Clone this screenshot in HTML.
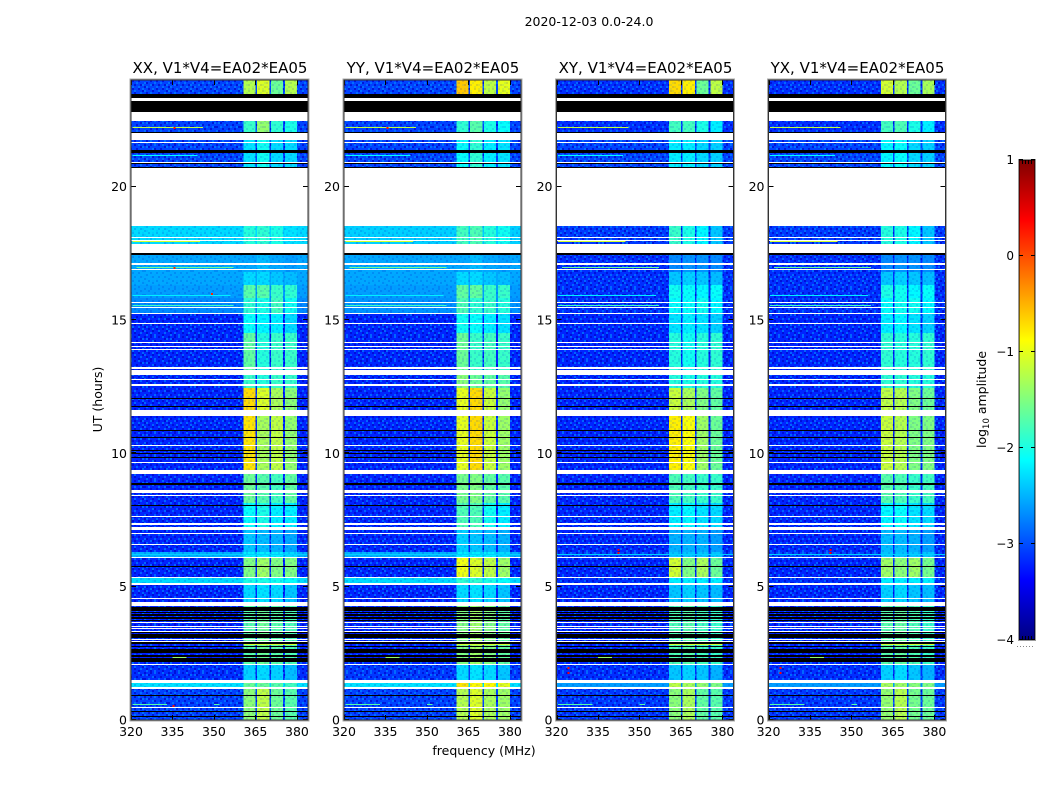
<!DOCTYPE html>
<html>
<head>
<meta charset="utf-8">
<title>2020-12-03 spectrogram</title>
<style>
html,body{margin:0;padding:0;background:#fff;}
svg{display:block;}
text{font-family:"DejaVu Sans","Liberation Sans",sans-serif;fill:#000;}
</style>
</head>
<body>
<svg id="fig" xmlns="http://www.w3.org/2000/svg" width="1050" height="800" viewBox="0 0 1050 800" shape-rendering="crispEdges">
<defs>
<pattern id="speckle" patternUnits="userSpaceOnUse" width="24" height="24">
<path fill="#0000c4" d="M0 0h2v2H0zM6 0h2v2H6zM14 0h2v2h-2zM20 2h2v2h-2zM4 2h2v2H4zM10 4h2v2h-2zM16 4h2v2h-2zM0 6h2v2H0zM22 6h2v2h-2zM6 8h2v2H6zM12 8h2v2h-2zM18 8h2v2h-2zM2 10h2v2H2zM14 12h2v2h-2zM8 12h2v2H8zM20 12h2v2h-2zM0 14h2v2H0zM4 16h2v2H4zM12 16h2v2h-2zM18 16h2v2h-2zM8 18h2v2H8zM22 18h2v2h-2zM2 20h2v2H2zM14 20h2v2h-2zM6 22h2v2H6zM18 22h2v2h-2z"/>
<path fill="#0088ff" d="M2 2h2v2H2zM10 0h2v2h-2zM18 0h2v2h-2zM8 4h2v2H8zM22 2h2v2h-2zM4 6h2v2H4zM14 6h2v2h-2zM20 6h2v2h-2zM0 10h2v2H0zM10 10h2v2h-2zM16 10h2v2h-2zM6 12h2v2H6zM22 12h2v2h-2zM12 14h2v2h-2zM2 14h2v2H2zM18 14h2v2h-2zM8 16h2v2H8zM22 16h2v2h-2zM0 18h2v2H0zM14 18h2v2h-2zM6 20h2v2H6zM20 20h2v2h-2zM10 22h2v2h-2zM2 22h2v2H2z"/>
</pattern>
<linearGradient id="cbar-grad" x1="0" y1="1" x2="0" y2="0"></linearGradient>
</defs>
<text x="589" y="26" text-anchor="middle" font-size="12.5">2020-12-03 0.0-24.0</text>
<text x="484" y="755" text-anchor="middle" font-size="12.5">frequency (MHz)</text>
<text transform="translate(102,399.5) rotate(-90)" text-anchor="middle" font-size="12.5">UT (hours)</text>
<text transform="translate(986,399.5) rotate(-90)" text-anchor="middle" font-size="12.5">log<tspan font-size="8.5" dy="3">10</tspan><tspan dy="-3"> amplitude</tspan></text>
<g id="panels"></g>
<g id="cbar"></g>
</svg>
<script>
// ---- chart data ----
const polarisations = ['XX', 'YY', 'XY', 'YX'];
const baselineLabel = 'V1*V4=EA02*EA05';
const xTicks = [320, 335, 350, 365, 380];
const yTicks = [0, 5, 10, 15, 20];
const colorbarTicks = [1, 0, -1, -2, -3, -4];

// time segments (UT hours, top and bottom edge)
const segTop = [24.00, 22.46, 21.75, 18.53, 17.50, 16.80, 16.30, 15.82, 15.26, 14.50, 13.12, 12.45, 11.40, 9.22, 8.14, 7.11, 6.30, 6.09, 5.32, 5.08, 4.27, 2.06, 1.37, 1.17];
const segBottom = [23.47, 22.05, 20.70, 17.85, 16.80, 16.30, 15.82, 15.26, 14.50, 13.12, 12.45, 11.62, 9.37, 8.14, 7.25, 6.30, 6.13, 5.36, 5.12, 4.27, 2.10, 1.50, 1.23, 0.00];

// receiver sub-band edges (MHz)
const bandStart = [360.7, 365.6, 370.6, 375.7];
const bandEnd = [365.1, 370.0, 375.0, 380.0];

// log10 amplitude of the out-of-band background per segment
const bgXX = [-3.05, -3.05, -3.05, -2.3, -2.55, -2.55, -2.6, -2.7, -3.2, -3.2, -3.2, -3.2, -3.2, -3.2, -3.2, -3.2, -2.5, -3.2, -2.3, -3.2, -3.2, -3.15, -2.25, -3.05];
const bgYY = [-3.05, -3.05, -3.05, -2.35, -2.55, -2.55, -2.6, -2.65, -3.2, -3.2, -3.2, -3.2, -3.2, -3.2, -3.2, -3.2, -2.5, -3.2, -2.3, -3.2, -3.2, -3.1, -2.25, -3.05];
const bgXY = [-3.15, -3.15, -3.05, -3.1, -3.15, -3.15, -3.15, -3.15, -3.2, -3.2, -3.2, -3.2, -3.2, -3.2, -3.2, -3.2, -3.05, -3.2, -3.15, -3.2, -3.2, -3.15, -2.6, -3.1];
const bgYX = [-3.15, -3.15, -3.05, -3.1, -3.15, -3.15, -3.15, -3.15, -3.2, -3.2, -3.2, -3.2, -3.2, -3.2, -3.2, -3.2, -3.05, -3.2, -3.15, -3.2, -3.2, -3.15, -2.6, -3.1];

// log10 amplitude of the four sub-bands per segment
const blocksXX = [[-1.25,-1.05,-1.6,-1.25],[-1.85,-1.4,-1.9,-2.0],[-2.25,-2.05,-2.3,-2.3],[-1.95,-1.9,-2.0,-2.25],[-2.55,-2.45,-2.55,-2.6],[-2.3,-2.3,-2.4,-2.45],[-1.7,-1.7,-1.85,-1.9],[-1.9,-2.0,-1.8,-2.05],[-2.1,-2.15,-2.2,-2.3],[-1.65,-1.95,-1.85,-1.85],[-1.85,-1.95,-1.85,-1.85],[-0.7,-1.05,-1.3,-1.45],[-0.75,-1.3,-1.2,-1.4],[-1.6,-1.7,-1.8,-1.65],[-2.1,-2.0,-2.2,-2.2],[-2.4,-2.45,-2.5,-2.55],[-2.2,-2.2,-2.2,-2.3],[-1.5,-1.35,-1.5,-1.5],[-2.0,-2.0,-2.05,-2.1],[-2.3,-2.25,-2.3,-2.4],[-1.7,-1.6,-1.7,-1.75],[-2.35,-2.3,-2.35,-2.45],[-1.6,-1.6,-1.7,-1.8],[-1.45,-1.2,-1.6,-1.7]];
const blocksYY = [[-0.6,-0.8,-1.2,-1.0],[-1.9,-1.7,-2.0,-2.1],[-2.1,-1.9,-2.2,-2.25],[-1.8,-1.75,-1.95,-2.05],[-2.55,-2.45,-2.55,-2.6],[-2.3,-2.3,-2.4,-2.45],[-1.65,-1.65,-1.85,-1.85],[-1.75,-1.9,-1.85,-1.95],[-2.05,-2.1,-2.2,-2.25],[-1.6,-1.85,-1.8,-1.85],[-1.45,-1.6,-1.65,-1.7],[-1.0,-0.7,-1.15,-1.4],[-1.0,-0.7,-1.15,-1.35],[-1.55,-1.5,-1.65,-1.7],[-1.75,-1.75,-2.05,-2.2],[-2.35,-2.4,-2.45,-2.5],[-2.2,-2.2,-2.2,-2.3],[-0.95,-1.05,-1.2,-1.35],[-1.9,-1.9,-2.0,-2.1],[-2.3,-2.25,-2.3,-2.4],[-1.5,-1.35,-1.5,-1.65],[-2.3,-2.25,-2.3,-2.4],[-0.75,-0.85,-0.85,-1.0],[-1.25,-1.05,-1.3,-1.35]];
const blocksXY = [[-0.7,-0.8,-1.6,-1.2],[-1.8,-1.8,-2.0,-2.2],[-2.2,-2.2,-2.3,-2.35],[-1.85,-2.0,-2.15,-2.4],[-2.7,-2.65,-2.65,-2.7],[-2.4,-2.35,-2.4,-2.45],[-2.05,-2.1,-2.15,-2.1],[-2.1,-2.1,-2.05,-2.15],[-2.25,-2.2,-2.25,-2.35],[-1.95,-2.05,-1.95,-1.9],[-1.95,-2.0,-1.95,-1.95],[-1.15,-1.3,-1.5,-1.65],[-0.8,-0.9,-1.35,-1.6],[-1.75,-1.8,-1.85,-1.85],[-2.2,-2.15,-2.25,-2.3],[-2.5,-2.5,-2.5,-2.6],[-2.4,-2.4,-2.4,-2.4],[-1.1,-1.5,-1.3,-1.6],[-2.2,-2.2,-2.2,-2.2],[-2.4,-2.35,-2.4,-2.45],[-1.75,-1.7,-1.8,-1.85],[-2.4,-2.35,-2.4,-2.5],[-1.2,-1.3,-1.4,-1.5],[-1.45,-1.3,-1.65,-1.7]];
const blocksYX = [[-1.1,-1.25,-1.6,-1.3],[-1.8,-1.75,-2.0,-2.2],[-2.15,-2.1,-2.3,-2.35],[-1.95,-2.0,-2.15,-2.4],[-2.7,-2.65,-2.65,-2.7],[-2.4,-2.35,-2.4,-2.45],[-2.0,-2.05,-2.15,-2.1],[-2.1,-2.05,-2.05,-2.15],[-2.2,-2.15,-2.25,-2.35],[-1.9,-1.95,-1.95,-1.9],[-1.9,-1.9,-1.95,-1.95],[-1.2,-1.25,-1.5,-1.6],[-1.15,-1.25,-1.5,-1.5],[-1.7,-1.75,-1.85,-1.8],[-2.15,-2.1,-2.25,-2.3],[-2.45,-2.45,-2.5,-2.6],[-2.4,-2.4,-2.4,-2.4],[-1.35,-1.45,-1.35,-1.55],[-2.2,-2.2,-2.2,-2.2],[-2.35,-2.3,-2.4,-2.45],[-1.7,-1.65,-1.75,-1.85],[-2.35,-2.3,-2.4,-2.5],[-1.3,-1.35,-1.45,-1.5],[-1.4,-1.25,-1.55,-1.6]];

// flagged rows with no data (UT hour ranges)
const whiteRows = [[23.32,23.21],[22.80,22.46],[22.01,21.75],[21.69,21.66],[20.92,20.88],[20.70,18.53],[18.12,18.07],[18.00,17.96],[17.85,17.50],[17.12,17.08],[16.91,16.87],[15.69,15.66],[15.49,15.45],[15.28,15.22],[14.89,14.85],[14.16,14.12],[14.04,14.00],[13.93,13.89],[13.24,13.16],[13.12,12.94],[12.80,12.75],[12.60,12.51],[11.62,11.40],[10.31,10.27],[9.67,9.64],[9.37,9.22],[8.64,8.60],[8.57,8.53],[8.45,8.42],[7.65,7.61],[7.37,7.33],[7.25,7.11],[7.01,6.97],[6.60,6.56],[6.13,6.09],[5.36,5.32],[5.12,5.08],[4.56,4.52],[4.42,4.27],[3.67,3.64],[3.54,3.51],[3.45,3.41],[3.34,3.30],[3.04,3.00],[2.96,2.92],[2.10,2.06],[1.50,1.37],[1.23,1.17],[0.49,0.45]];

// zero-amplitude rows (UT hour ranges)
const blackRows = [[23.47,23.32],[23.21,22.80],[22.05,22.01],[21.37,21.34],[21.32,21.28],[20.88,20.84],[20.75,20.70],[17.50,17.45],[12.09,12.06],[11.78,11.72],[10.86,10.82],[10.63,10.59],[10.11,10.07],[10.00,9.98],[9.88,9.84],[8.87,8.83],[8.08,8.04],[5.76,5.73],[4.23,4.10],[4.06,4.00],[3.96,3.91],[3.87,3.80],[3.75,3.71],[3.29,3.25],[3.22,3.06],[2.94,2.85],[2.77,2.73],[2.66,2.50],[2.44,2.35],[2.31,2.19],[0.94,0.92],[0.34,0.31],[0.15,0.12]];

// narrow-band interference: UT hour, start MHz, end MHz, level
const rfiHour = [22.24, 21.18, 17.96, 16.99, 15.56, 15.95, 6.24, 3.32, 2.36, 0.60, 0.60, 4.14, 2.84];
const rfiStart = [320.5, 320.5, 320.5, 322.0, 320.5, 320.5, 320.0, 360.7, 335.0, 320.5, 350.0, 360.7, 360.7];
const rfiEnd = [346.0, 344.0, 345.0, 357.0, 357.0, 356.0, 384.0, 380.0, 340.0, 333.0, 352.0, 380.0, 380.0];
const rfiLevel = [-1.2, -2.1, -1.1, -1.6, -1.8, -2.2, -2.35, -0.6, -1.4, -1.7, -1.7, -1.2, -1.1];

// isolated hot pixels: UT hour, MHz, level, polarisations showing it
const hotHour = [22.24, 17.0, 16.0, 6.3, 6.42, 1.8, 0.58, 2.0];
const hotFreq = [335.3, 335.3, 349.0, 342.0, 342.0, 324.0, 335.0, 324.0];
const hotLevel = [0.3, 0.2, 0.2, 0.4, 0.4, 0.4, 0.3, 0.3];
const hotPols = ['XX YY', 'XX', 'XX', 'XY YX', 'XY YX', 'XY YX', 'XX', 'XY YX'];

const backgrounds = [bgXX, bgYY, bgXY, bgYX];
const blockSets = [blocksXX, blocksYY, blocksXY, blocksYX];

// ---- geometry ----
const NS = 'http://www.w3.org/2000/svg';
const panelsG = document.getElementById('panels');
const panelLeft = [131, 344, 556.5, 768.5];
const panelWidth = 177;
const plotTop = 80;
const plotBottom = 720;

function yScale(hour) { return plotBottom - (hour / 24) * (plotBottom - plotTop); }
function yPx(hour) { return Math.round(yScale(hour)); }
function rowHeight(top, bottom) { return Math.max(1, yPx(bottom) - yPx(top)); }
function xScaleFor(left) { return function (mhz) { return left + ((mhz - 320) / 64) * panelWidth; }; }
function clamp01(v) { return Math.max(0, Math.min(1, v)); }
function jet(level) {
  const t = clamp01((level + 4) / 5);
  const r = clamp01(Math.min(4 * t - 1.5, -4 * t + 4.5));
  const g = clamp01(Math.min(4 * t - 0.5, -4 * t + 3.5));
  const b = clamp01(Math.min(4 * t + 0.5, -4 * t + 2.5));
  return 'rgb(' + Math.round(r * 255) + ',' + Math.round(g * 255) + ',' + Math.round(b * 255) + ')';
}
function make(tag, parent, attrs) {
  const e = document.createElementNS(NS, tag);
  for (const k in attrs) e.setAttribute(k, attrs[k]);
  parent.appendChild(e);
  return e;
}

polarisations.forEach(function (pol, p) {
  const left = panelLeft[p];
  const x = xScaleFor(left);
  const g = make('g', panelsG, {});
  
  

  const bg = backgrounds[p];
  const blocks = blockSets[p];

  // background cells, each with noise overlay
  segTop.forEach(function (top, s) {
    const h = rowHeight(top, segBottom[s]);
    const r = make('rect', g, { x: left, y: yPx(top), width: panelWidth, height: h, fill: jet(bg[s]) });
    
    
    const tex = make('rect', g, { x: left, y: yPx(top), width: panelWidth, height: h, fill: 'url(#speckle)', opacity: bg[s] > -2.8 ? 0.16 : 0.65 });
    
    
  });

  // sub-band cells
  segTop.forEach(function (top, s) {
    const h = rowHeight(top, segBottom[s]);
    bandStart.forEach(function (fs, b) {
      const r = make('rect', g, { x: x(fs), y: yPx(top), width: x(bandEnd[b]) - x(fs), height: h, fill: jet(blocks[s][b]) });
      
      
      const n = make('rect', g, { x: x(fs), y: yPx(top), width: x(bandEnd[b]) - x(fs), height: h, fill: 'url(#speckle)', opacity: 0.12 });
      
      
    });
  });

  // RFI lines
  rfiHour.forEach(function (h, i) {
    const r = make('rect', g, { x: x(rfiStart[i]), y: yPx(h), width: x(rfiEnd[i]) - x(rfiStart[i]), height: 1, fill: jet(rfiLevel[i]) });
    
    
  });
  hotHour.forEach(function (h, i) {
    if (hotPols[i].indexOf(pol) < 0) return;
    const r = make('rect', g, { x: x(hotFreq[i]), y: yPx(h), width: 2, height: 2, fill: jet(hotLevel[i]) });
    
    
  });

  // flagged rows
  whiteRows.forEach(function (row) {
    const r = make('rect', g, { x: left, y: yPx(row[0]), width: panelWidth, height: rowHeight(row[0], row[1]), fill: '#fff' });
    
    
  });
  blackRows.forEach(function (row) {
    const r = make('rect', g, { x: left, y: yPx(row[0]), width: panelWidth, height: rowHeight(row[0], row[1]), fill: '#000' });
    
    
  });

  // ticks
  xTicks.forEach(function (v) {
    const px = Math.round(x(v)) + 0.5;
    const t1 = make('line', g, { x1: px, x2: px, y1: plotBottom, y2: plotBottom - 5, stroke: '#000', 'stroke-width': 1 });
    
    
    const t2 = make('line', g, { x1: px, x2: px, y1: plotTop, y2: plotTop + 5, stroke: '#000', 'stroke-width': 1 });
    
    
    const lab = make('text', g, { x: x(v), y: 736, 'text-anchor': 'middle', 'font-size': 12.5 });
    lab.textContent = String(v);
    
    
  });
  yTicks.forEach(function (v) {
    const py = Math.round(yScale(v)) - 0.5;
    const t1 = make('line', g, { x1: left, x2: left + 5, y1: py, y2: py, stroke: '#000', 'stroke-width': 1 });
    
    
    const t2 = make('line', g, { x1: left + panelWidth - 5, x2: left + panelWidth, y1: py, y2: py, stroke: '#000', 'stroke-width': 1 });
    
    
    const lab = make('text', g, { x: left - 4, y: yScale(v) + 4.5, 'text-anchor': 'end', 'font-size': 12.5 });
    lab.textContent = String(v);
    
    
  });

  const halo = make('rect', g, { x: left - 1, y: plotTop - 1, width: panelWidth + 2, height: plotBottom - plotTop + 2, fill: 'none', stroke: '#aaa', 'stroke-width': 1 });
  
  
  const frame = make('rect', g, { x: left, y: plotTop, width: panelWidth, height: plotBottom - plotTop, fill: 'none', stroke: '#333', 'stroke-width': 1 });
  
  

  const title = make('text', g, { x: left + panelWidth / 2 + 0.5, y: 73, 'text-anchor': 'middle', 'font-size': 15 });
  title.textContent = pol + ', ' + baselineLabel;
  
  
});

// ---- colorbar ----
const cbarG = document.getElementById('cbar');
const grad = document.getElementById('cbar-grad');
for (let i = 0; i <= 40; i++) {
  const s = make('stop', grad, { offset: (i / 40), 'stop-color': jet(-4 + 5 * i / 40) });
  
  
}
const cbLeft = 1019, cbRight = 1035, cbTop = 160, cbBottom = 640;
function cbY(v) { return cbBottom - ((v + 4) / 5) * (cbBottom - cbTop); }
const cbBar = make('rect', cbarG, { x: cbLeft, y: cbTop, width: cbRight - cbLeft, height: cbBottom - cbTop, fill: 'url(#cbar-grad)', stroke: '#000', 'stroke-width': 1 });


const cbOutline = make('rect', cbarG, { x: cbLeft - 0.5, y: cbTop - 0.5, width: cbRight - cbLeft + 1, height: cbBottom - cbTop + 1, fill: 'none', stroke: '#999', 'stroke-width': 1 });


colorbarTicks.forEach(function (v) {
  const py = Math.round(cbY(v)) - 0.5;
  const a = make('line', cbarG, { x1: cbLeft, x2: cbLeft + 4, y1: py, y2: py, stroke: '#000', 'stroke-width': 1 });
  
  
  const b = make('line', cbarG, { x1: cbRight - 4, x2: cbRight, y1: py, y2: py, stroke: '#000', 'stroke-width': 1 });
  
  
  const lab = make('text', cbarG, { x: cbLeft - 5, y: cbY(v) + 4, 'text-anchor': 'end', 'font-size': 12 });
  lab.textContent = (v < 0 ? '\u2212' : '') + Math.abs(v);
  
  
});
[3, 6, 9, 12].forEach(function (dx) {
  const a = make('line', cbarG, { x1: cbLeft + dx + 0.5, x2: cbLeft + dx + 0.5, y1: cbTop, y2: cbTop + 4, stroke: '#000', 'stroke-width': 1 });
  
  
  const b = make('line', cbarG, { x1: cbLeft + dx + 0.5, x2: cbLeft + dx + 0.5, y1: cbBottom - 4, y2: cbBottom, stroke: '#000', 'stroke-width': 1 });
  
  
});
[1017, 1020, 1023, 1026, 1029, 1032].forEach(function (px) {
  const d = make('rect', cbarG, { x: px, y: 646, width: 1, height: 1, fill: '#888' });
  
  
});
</script>
</body>
</html>
